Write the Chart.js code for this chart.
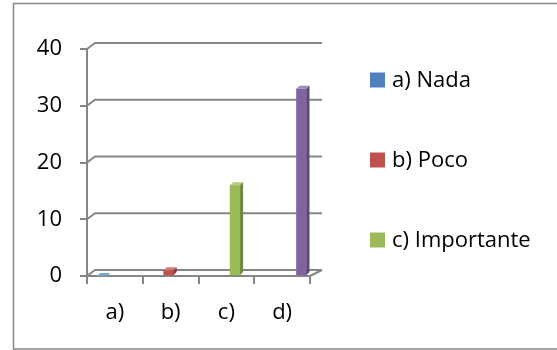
<!DOCTYPE html>
<html>
<head>
<meta charset="utf-8">
<script src="https://cdn.jsdelivr.net/npm/chart.js@4.4.1/dist/chart.umd.min.js"></script>
<style>
  html, body { margin: 0; padding: 0; background: #fff; }
  #wrap { width: 557px; height: 350px; }
</style>
</head>
<body>
<div id="wrap"><canvas id="chart" width="557" height="350"></canvas></div>
<script>
const categories = ["a)", "b)", "c)", "d)"];
const values = [0, 1, 16, 33];
const legendLabels = ["a) Nada", "b) Poco", "c) Importante"];
const barColors = ["#4F81BD", "#C0504D", "#9BBB59", "#8064A2"];
const yTicks = [0, 10, 20, 30, 40];

const FONT = { family: "'Open Sans', sans-serif", size: 22 };
const LINE = "#868686";
// back wall sits up and to the right of the front axes
const DEPTH = { left: 8, right: 12, rise: 6 };
const BAR_DEPTH = 3;

function shade(hex, f) {
  const n = parseInt(hex.slice(1), 16);
  const ch = [(n >> 16) & 255, (n >> 8) & 255, n & 255].map((c) =>
    Math.round(f > 1 ? c + (255 - c) * (f - 1) : c * f),
  );
  return `rgb(${ch.join(",")})`;
}

const framePlugin = {
  id: "frame",
  beforeDraw(chart) {
    const { ctx, width, height } = chart;
    ctx.save();
    ctx.fillStyle = "#fff";
    ctx.fillRect(0, 0, width, height);
    ctx.restore();
  },
  beforeDatasetsDraw(chart) {
    const { ctx, chartArea: a, scales } = chart;
    const y = scales.y;
    ctx.save();
    ctx.strokeStyle = LINE;
    ctx.lineWidth = 2;
    y.ticks.forEach((t) => {
      const py = y.getPixelForValue(t.value);
      ctx.beginPath();
      ctx.moveTo(a.left, py);
      ctx.lineTo(a.left + DEPTH.left, py - DEPTH.rise);
      ctx.lineTo(a.right + DEPTH.right, py - DEPTH.rise);
      ctx.stroke();
    });
    // right edge of the floor
    const base = y.getPixelForValue(0);
    ctx.beginPath();
    ctx.moveTo(a.right, base);
    ctx.lineTo(a.right + DEPTH.right, base - DEPTH.rise);
    ctx.stroke();
    ctx.restore();
  },
  afterDatasetsDraw(chart) {
    const { ctx } = chart;
    const meta = chart.getDatasetMeta(0);
    const d = BAR_DEPTH;
    ctx.save();
    meta.data.forEach((bar, i) => {
      const { x, y, base, width } = bar.getProps(["x", "y", "base", "width"], true);
      const l = x - width / 2;
      const r = x + width / 2;
      const color = barColors[i];
      ctx.fillStyle = shade(color, 1.25);
      ctx.beginPath();
      ctx.moveTo(l, y);
      ctx.lineTo(r, y);
      ctx.lineTo(r + d, y - d);
      ctx.lineTo(l + d, y - d);
      ctx.closePath();
      ctx.fill();
      ctx.fillStyle = shade(color, 0.72);
      ctx.beginPath();
      ctx.moveTo(r, y);
      ctx.lineTo(r + d, y - d);
      ctx.lineTo(r + d, base - d);
      ctx.lineTo(r, base);
      ctx.closePath();
      ctx.fill();
    });
    ctx.restore();
  },
  afterDraw(chart) {
    const { ctx } = chart;
    ctx.save();
    ctx.strokeStyle = LINE;
    ctx.lineWidth = 1.5;
    ctx.strokeRect(13.5, 3.5, 600, 345.5);

    ctx.font = `${FONT.size}px ${FONT.family}`;
    ctx.textBaseline = "middle";
    legendLabels.forEach((label, i) => {
      const cy = 80 + i * 80;
      ctx.fillStyle = barColors[i];
      ctx.fillRect(370, cy - 7.5, 15, 15);
      ctx.fillStyle = "#000";
      ctx.fillText(label, 392, cy + 1);
    });
    ctx.restore();
  },
};

new Chart(document.getElementById("chart"), {
  type: "bar",
  data: {
    labels: categories,
    datasets: [
      {
        data: values.map((v, i) => ({ x: i, y: v })),
        backgroundColor: barColors,
        borderWidth: 0,
        barThickness: 10,
        xAxisID: "xb",
      },
    ],
  },
  options: {
    responsive: false,
    animation: false,
    layout: { padding: { top: 49, right: 247, bottom: 0, left: 0 } },
    plugins: {
      legend: { display: false },
      tooltip: { enabled: false },
    },
    scales: {
      x: {
        type: "category",
        offset: true,
        grid: {
          offset: true,
          drawOnChartArea: false,
          tickLength: 8,
          color: LINE,
          lineWidth: 2,
        },
        border: { color: LINE, width: 2 },
        ticks: { font: FONT, color: "#000", padding: 16, maxRotation: 0 },
        afterFit: (s) => {
          s.height = 74;
        },
      },
      xb: {
        type: "linear",
        display: false,
        offset: false,
        grid: { offset: false },
        min: -0.23,
        max: 3.128,
      },
      y: {
        min: yTicks[0],
        max: yTicks[yTicks.length - 1],
        ticks: {
          stepSize: yTicks[1] - yTicks[0],
          font: FONT,
          color: "#000",
          padding: 18,
        },
        grid: {
          drawOnChartArea: false,
          tickLength: 7,
          color: LINE,
          lineWidth: 2,
        },
        border: { color: LINE, width: 2 },
        afterFit: (s) => {
          s.width = 87;
        },
      },
    },
  },
  plugins: [framePlugin],
});
</script>
</body>
</html>
